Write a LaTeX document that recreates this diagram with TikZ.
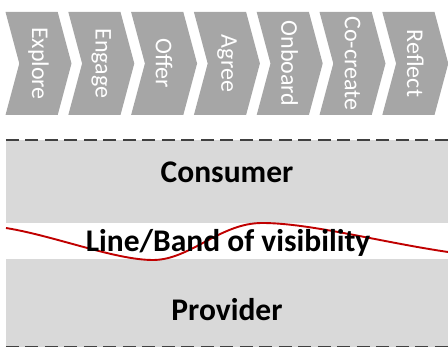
\documentclass[tikz,border=0pt]{standalone}
\usepackage{fontspec}
\setmainfont{Carlito}
\usepackage{tikz}
\usetikzlibrary{shapes,arrows,positioning}

\definecolor{stepgrey}{HTML}{A6A6A6}
\definecolor{bandgrey}{HTML}{D9D9D9}
\definecolor{visred}{HTML}{C00000}
\definecolor{dashgrey}{HTML}{404040}

\begin{document}
\begin{tikzpicture}[x=1pt, y=-1pt, node distance=62.8pt]
\tikzstyle{phase} = [signal, signal from=west, signal to=east, signal pointer angle=150, fill=stepgrey, text=white, minimum width=66pt, minimum height=103pt, inner sep=0pt, font=\fontsize{24}{28}\selectfont]
\tikzstyle{band} = [rectangle, fill=bandgrey, minimum width=442pt, inner sep=0pt, font=\fontsize{31.5}{36}\selectfont\bfseries]
\tikzstyle{dashline} = [draw=dashgrey, line width=2pt, dash pattern=on 13pt off 6.5pt]
\tikzstyle{visline} = [draw=visred, line width=1.9pt]

\useasboundingbox (0,0) rectangle (448,347);

% phases
\node [phase] (explore) at (38.5,63.5) {\rotatebox{-90}{Explore}};
\node [phase, right of=explore] (engage) {\rotatebox{-90}{Engage}};
\node [phase, right of=engage] (offer) {\rotatebox{-90}{Offer}};
\node [phase, right of=offer] (agree) {\rotatebox{-90}{Agree}};
\node [phase, right of=agree] (onboard) {\rotatebox{-90}{Onboard}};
\node [phase, right of=onboard] (cocreate) {\rotatebox{-90}{Co-create}};
\node [phase, right of=cocreate] (reflect) {\rotatebox{-90}{Reflect}};

% bands
\node [band, minimum height=83pt, text height=22pt, text depth=19pt] (consumer) at (227,181.5) {Consumer};
\node [band, minimum height=88pt, text height=36pt, text depth=0pt] (provider) at (227,303) {Provider};

\path [dashline] (consumer.north west) -- (consumer.north east);
\path [dashline] (provider.south west) -- (provider.south east);

% visibility
\coordinate (wavestart) at (6,228);
\coordinate (waveend) at (448,252);
\path [visline] (wavestart) .. controls (55,236) and (115,260) .. (153,260) .. controls (190,260) and (220,223) .. (262,223) .. controls (310,223) and (380,242) .. (waveend);
\node [font=\fontsize{31.5}{36}\selectfont\bfseries, anchor=base] (visibility) at (228,252) {Line/Band of visibility};
\end{tikzpicture}
\end{document}
